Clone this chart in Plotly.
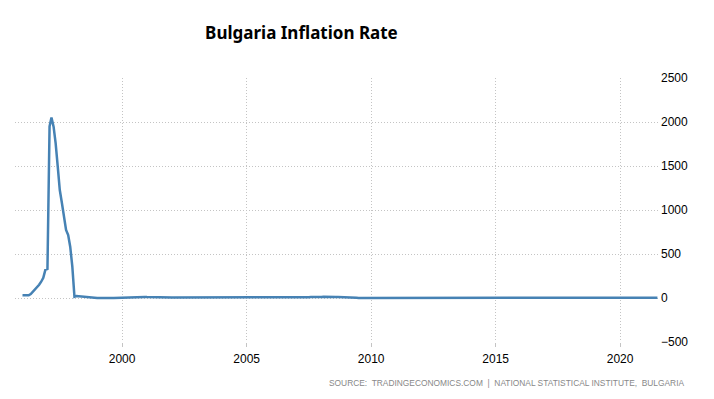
import pandas as pd
import plotly.graph_objects as go

# Monthly year-over-year inflation rate (%), Jan 1996 onward
y1996 = [32, 30, 28, 30, 45, 70, 95, 120, 150, 185, 230, 320]
y1997 = [330, 1950, 2050, 1947, 1761, 1492, 1227, 1080, 924, 773, 716, 583]
y1998 = [356, 15, 23, 20, 18, 15, 10, 7, 5, 3, 2, 1]
y1999 = [0.5, 0, -1, -1, -2, -2, -1, 0, 1, 2, 4, 6]
y2000 = [7, 8, 9, 9, 10, 10, 11, 11, 12, 12, 11, 11]
y2001 = [10, 9, 8, 7, 8, 8, 7, 6, 6, 5, 5, 5]
y2002 = [6, 6, 6, 5, 5, 4, 3, 3, 2, 3, 4, 4]
y2003 = [3, 2, 2, 2, 1, 2, 2, 3, 4, 5, 5, 6]
y2004 = [7, 6, 7, 7, 7, 6, 6, 6, 6, 5, 4, 4]
y2005 = [4, 4, 4, 5, 5, 5, 5, 5, 6, 6, 7, 7]
y2006 = [8, 8, 8, 7, 8, 8, 8, 7, 6, 5, 6, 6]
y2007 = [5, 5, 5, 5, 6, 6, 8, 10, 12, 12, 12, 12]
y2008 = [12, 13, 14, 14, 15, 15, 14, 12, 11, 11, 9, 8]
y2009 = [7, 6, 5, 4, 4, 3, 1, 1, 0, 0, 1, 1]
y2010 = [2, 2, 2, 3, 3, 3, 3, 4, 4, 4, 4, 4]
y2011 = [4, 5, 5, 5, 4, 3, 3, 3, 3, 3, 3, 3]
y2012 = [2, 2, 2, 2, 2, 2, 3, 4, 4, 4, 3, 3]
y2013 = [3, 2, 1, 1, 1, 1, 0, -1, -1, -1, -1, -1]
y2014 = [-2, -2, -2, -1, -1, -1, -1, -1, -1, -2, -1, -1]
y2015 = [-1, -1, -1, -1, -1, -1, -1, -1, -1, 0, 0, 0]
y2016 = [0, -1, -1, -2, -2, -1, -1, -1, -1, 0, 0, 0]
y2017 = [1, 1, 1, 2, 2, 2, 2, 2, 2, 2, 3, 3]
y2018 = [2, 2, 2, 2, 3, 4, 4, 4, 3, 4, 3, 3]
y2019 = [3, 3, 3, 3, 3, 2, 2, 3, 3, 3, 4, 4]
y2020 = [4, 3, 2, 2, 1, 1, 1, 1, 1, 1, 1, 0]
y2021 = [0, 1, 1, 2, 2, 2, 3]

values = (y1996 + y1997 + y1998 + y1999 + y2000 + y2001 + y2002 + y2003 + y2004
          + y2005 + y2006 + y2007 + y2008 + y2009 + y2010 + y2011 + y2012 + y2013
          + y2014 + y2015 + y2016 + y2017 + y2018 + y2019 + y2020 + y2021)
dates = pd.date_range("1996-01-01", periods=len(values), freq="MS")

y_ticks = [-500, 0, 500, 1000, 1500, 2000, 2500]
x_ticks = ["2000-01-01", "2005-01-01", "2010-01-01", "2015-01-01", "2020-01-01"]
x_labels = ["2000", "2005", "2010", "2015", "2020"]

grid = "#c4c4c4"

fig = go.Figure()
fig.add_trace(go.Scatter(x=dates, y=values, mode="lines",
                         line=dict(color="#4682b4", width=2.5), hoverinfo="skip"))

fig.update_layout(
    width=714, height=399,
    margin=dict(l=7, r=62, t=70, b=65),
    paper_bgcolor="white", plot_bgcolor="white",
    showlegend=False,
    title=dict(text="<b>Bulgaria Inflation Rate</b>", x=0.411, xanchor="center",
               y=0.937, yanchor="middle",
               font=dict(family="Noto Sans", size=17, color="black")),
    annotations=[dict(text="SOURCE:  TRADINGECONOMICS.COM  |  NATIONAL STATISTICAL INSTITUTE,  BULGARIA",
                      xref="paper", yref="paper", x=1.040, y=-0.155,
                      xanchor="right", yanchor="middle", showarrow=False,
                      font=dict(family="Liberation Sans", size=8.4, color="#888888"))],
)
fig.update_xaxes(
    range=["1995-09-13", "2021-08-08"],
    tickvals=x_ticks, ticktext=x_labels,
    showgrid=True, gridcolor=grid, griddash="1px,2px", gridwidth=1,
    zeroline=False, showline=False,
    ticks="outside", ticklen=4, tickcolor=grid, tickwidth=1,
    ticklabelstandoff=2,
    tickfont=dict(family="Liberation Sans", size=12, color="black"),
)
fig.update_yaxes(
    range=[-500, 2500], side="right",
    tickvals=y_ticks,
    showgrid=True, gridcolor=grid, griddash="1px,2px", gridwidth=1,
    zeroline=False, showline=False, ticks="",
    tickfont=dict(family="Liberation Sans", size=12, color="black"),
)

fig.write_html("out.html")
